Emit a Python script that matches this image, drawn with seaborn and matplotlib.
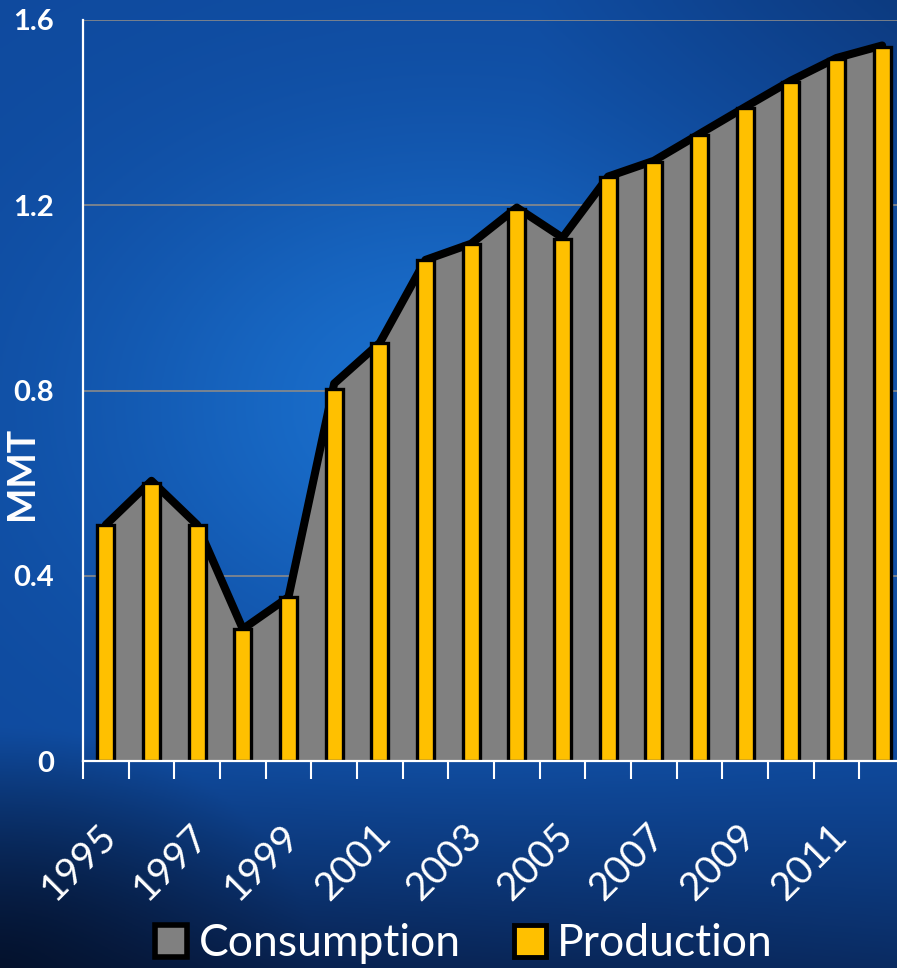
import numpy as np
import pandas as pd
import matplotlib
matplotlib.use("Agg")
import matplotlib.pyplot as plt
import seaborn as sns
from matplotlib.patches import Patch
from matplotlib.transforms import ScaledTranslation

# ---- data ----
years = [str(y) for y in range(1995, 2013)]
production = [0.51, 0.60, 0.51, 0.285, 0.354, 0.803, 0.903, 1.082, 1.117, 1.192, 1.127,
              1.260, 1.294, 1.352, 1.410, 1.467, 1.516, 1.542]
consumption = [0.51, 0.605, 0.51, 0.285, 0.354, 0.815, 0.903, 1.082, 1.117, 1.195, 1.13,
               1.262, 1.296, 1.354, 1.412, 1.469, 1.518, 1.545]
tick_labels = ["1995", "1997", "1999", "2001", "2003", "2005", "2007", "2009", "2011"]
y_ticks = [0, 0.4, 0.8, 1.2, 1.6]
y_tick_labels = ["0", "0.4", "0.8", "1.2", "1.6"]

sns.set_style("white")
plt.rcParams['font.family'] = ['Lato', 'DejaVu Sans']

W, H = 897, 968
fig = plt.figure(figsize=(W / 100, H / 100), dpi=100)

# ---- background gradient ----
bg = fig.add_axes([0, 0, 1, 1], zorder=-10)
xx, yy = np.meshgrid(np.linspace(0, 1, 300), np.linspace(0, 1, 320))  # yy from top
base = np.array([15, 74, 158]) / 255
bright = np.array([26, 112, 206]) / 255
dark = np.array([8, 30, 72]) / 255
corner = np.array([3, 14, 36]) / 255
tb = np.exp(-(((xx - 0.5) ** 2) / 0.15 + ((yy - 0.42) ** 2) / 0.07))
col = base[None, None, :] * (1 - tb[..., None]) + bright[None, None, :] * tb[..., None]
tr = np.clip((xx - 0.6) / 0.4, 0, 1) * np.clip((0.3 - yy) / 0.3, 0, 1) * 0.35
col = col * (1 - tr[..., None]) + dark[None, None, :] * tr[..., None]
df = np.clip((yy - 0.76) / 0.24, 0, 1) ** 1.2 * (1 - 0.3 * xx)
df = np.clip(df, 0, 1)
col = col * (1 - df[..., None]) + dark[None, None, :] * df[..., None]
cf = np.clip(1 - np.sqrt((xx / 0.35) ** 2 + ((1 - yy) / 0.25) ** 2), 0, 1) * 0.75
col = col * (1 - cf[..., None]) + corner[None, None, :] * cf[..., None]
bg.imshow(col, aspect='auto', extent=[0, 1, 0, 1], origin='upper')
bg.set_axis_off()

# ---- main axes ----
ax = fig.add_axes([83 / W, 1 - 761 / H, 822 / W, 741 / H])
ax.patch.set_alpha(0)

xpos = np.arange(len(years))
ax.fill_between(xpos, consumption, 0, color='#808080', linewidth=0, zorder=1)
sns.lineplot(x=xpos, y=consumption, color='black', linewidth=5.8, ax=ax, zorder=2,
             solid_joinstyle='round', solid_capstyle='round')
sns.barplot(x=years, y=production, color='#FFC000', edgecolor='black', linewidth=2.4,
            width=0.37, saturation=1, ax=ax, zorder=3)

ax.set_xlim(-0.5, 17.5)
ax.set_ylim(0, 1.6)

ax.set_yticks(y_ticks)
ax.set_yticklabels(y_tick_labels, fontsize=21, fontweight='bold', color='white')
ax.tick_params(axis='y', length=0, pad=21)
ax.yaxis.grid(True, color='#8a8a8a', linewidth=1.2, zorder=0)
ax.set_axisbelow(True)

ax.set_xticks(xpos[::2])
ax.set_xticklabels(tick_labels, rotation=45, ha='right', va='center',
                   rotation_mode='anchor', fontsize=28, color='white')
ax.set_xticks(np.arange(-0.5, 18, 1), minor=True)
ax.tick_params(axis='x', which='major', length=0, pad=50)
ax.tick_params(axis='x', which='minor', length=13, width=1.5, color='white',
               direction='out', bottom=True)
off = ScaledTranslation(5 / 100, 0, fig.dpi_scale_trans)
for lbl in ax.get_xticklabels():
    lbl.set_transform(lbl.get_transform() + off)
ax.set_xlabel("")

ax.set_ylabel("MMT", fontsize=27, fontweight='bold', color='white')
ax.yaxis.set_label_coords(-44 / 822, (761 - 473) / 741)

for s in ['top', 'right']:
    ax.spines[s].set_visible(False)
for s in ['left', 'bottom']:
    ax.spines[s].set_color('white')
    ax.spines[s].set_linewidth(1.6)
    ax.spines[s].set_zorder(5)

handles = [Patch(facecolor='#808080', edgecolor='black', linewidth=4),
           Patch(facecolor='#FFC000', edgecolor='black', linewidth=3.5)]
fig.legend(handles, ["Consumption", "Production"], loc='center',
           bbox_to_anchor=(464 / W, 1 - 944 / H), ncol=2, frameon=False,
           fontsize=32, labelcolor='white', handlelength=0.72, handleheight=0.72,
           handletextpad=0.25, columnspacing=1.2)

fig.savefig("out.png", dpi=100)
